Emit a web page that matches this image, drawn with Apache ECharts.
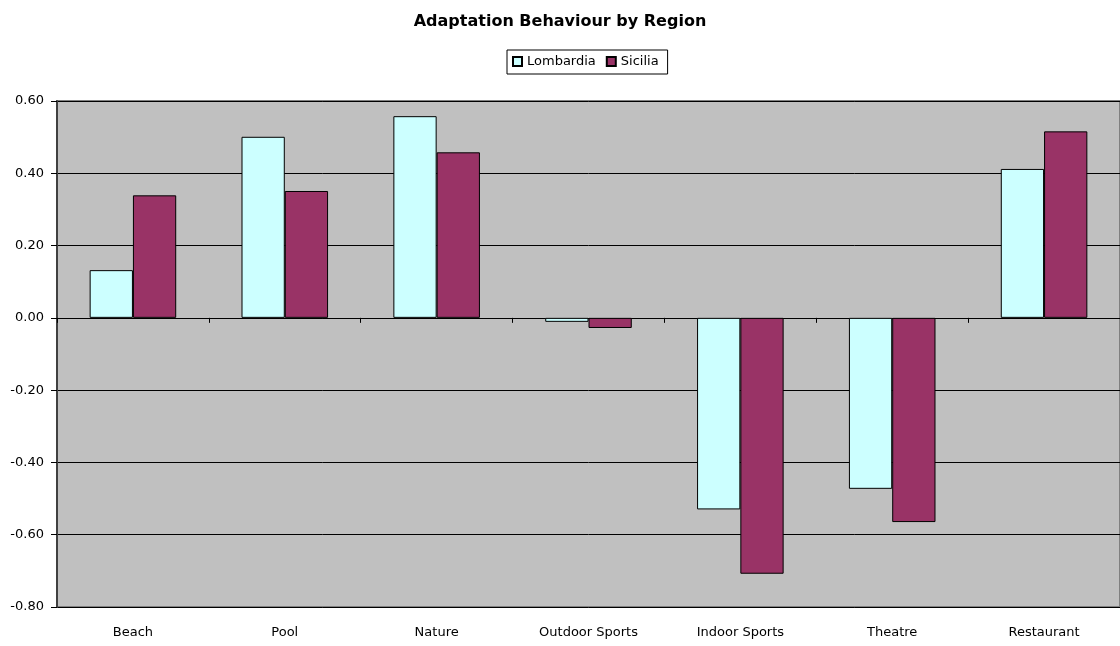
<!DOCTYPE html>
<html>
<head>
<meta charset="utf-8">
<script src="https://cdn.jsdelivr.net/npm/echarts@6/dist/echarts.min.js"></script>
<style>
html, body { margin: 0; padding: 0; background: #fff; }
#main { width: 1120px; height: 646px; }
</style>
</head>
<body>
<div id="main"></div>
<script>
var categories = ['Beach', 'Pool', 'Nature', 'Outdoor Sports', 'Indoor Sports', 'Theatre', 'Restaurant'];
var lombardia = [0.132, 0.501, 0.558, -0.011, -0.530, -0.473, 0.412];
var sicilia = [0.339, 0.351, 0.458, -0.028, -0.708, -0.565, 0.516];
var yTicks = { min: -0.8, max: 0.6, step: 0.2 };

var chart = echarts.init(document.getElementById('main'));
var font = '"DejaVu Sans", Arial, sans-serif';

var option = {
    animation: false,
    textStyle: { fontFamily: font, color: '#000' },
    title: {
        text: 'Adaptation Behaviour by Region',
        left: 'center',
        top: 9,
        textStyle: { fontFamily: font, fontSize: 16, fontWeight: 'bold', color: '#000' }
    },
    legend: {
        data: ['Lombardia', 'Sicilia'],
        left: 507,
        top: 50,
        itemWidth: 9,
        itemHeight: 9,
        itemGap: 10,
        icon: 'rect',
        borderColor: '#000',
        borderWidth: 1,
        padding: [5, 9, 6, 5],
        borderRadius: 0,
        textStyle: { fontFamily: font, fontSize: 13, color: '#000' }
    },
    grid: {
        left: 57,
        right: 0,
        top: 101,
        bottom: 39,
        show: true,
        backgroundColor: '#c0c0c0',
        borderColor: '#808080',
        borderWidth: 2
    },
    xAxis: [
        {
            // line and ticks at zero
            type: 'category',
            data: categories,
            axisLine: { onZero: true, lineStyle: { color: '#000', width: 1 } },
            axisTick: { show: true, length: 5, lineStyle: { color: '#000' } },
            axisLabel: { show: false }
        },
        {
            // labels at the bottom
            type: 'category',
            data: categories,
            position: 'bottom',
            axisLine: { show: false, onZero: false },
            axisTick: { show: false },
            axisLabel: { fontFamily: font, fontSize: 13, color: '#000', margin: 19 }
        }
    ],
    yAxis: {
        type: 'value',
        min: yTicks.min,
        max: yTicks.max,
        interval: yTicks.step,
        axisLine: { show: true, lineStyle: { color: '#404040', width: 2 } },
        axisTick: { show: true, length: 6, lineStyle: { color: '#000' } },
        axisLabel: {
            fontFamily: font, fontSize: 13, color: '#000', margin: 13,
            formatter: function (v) { return v.toFixed(2); }
        },
        splitLine: { show: true, lineStyle: { color: '#000', width: 1 } }
    },
    series: [
        {
            name: 'Lombardia',
            type: 'bar',
            xAxisIndex: 0,
            data: lombardia,
            barGap: '0%',
            barCategoryGap: '43%',
            itemStyle: { color: '#ccffff', borderColor: '#000', borderWidth: 1 }
        },
        {
            name: 'Sicilia',
            type: 'bar',
            xAxisIndex: 0,
            data: sicilia,
            barGap: '0%',
            barCategoryGap: '43%',
            itemStyle: { color: '#993366', borderColor: '#000', borderWidth: 1 }
        }
    ]
};

chart.setOption(option);
</script>
</body>
</html>
